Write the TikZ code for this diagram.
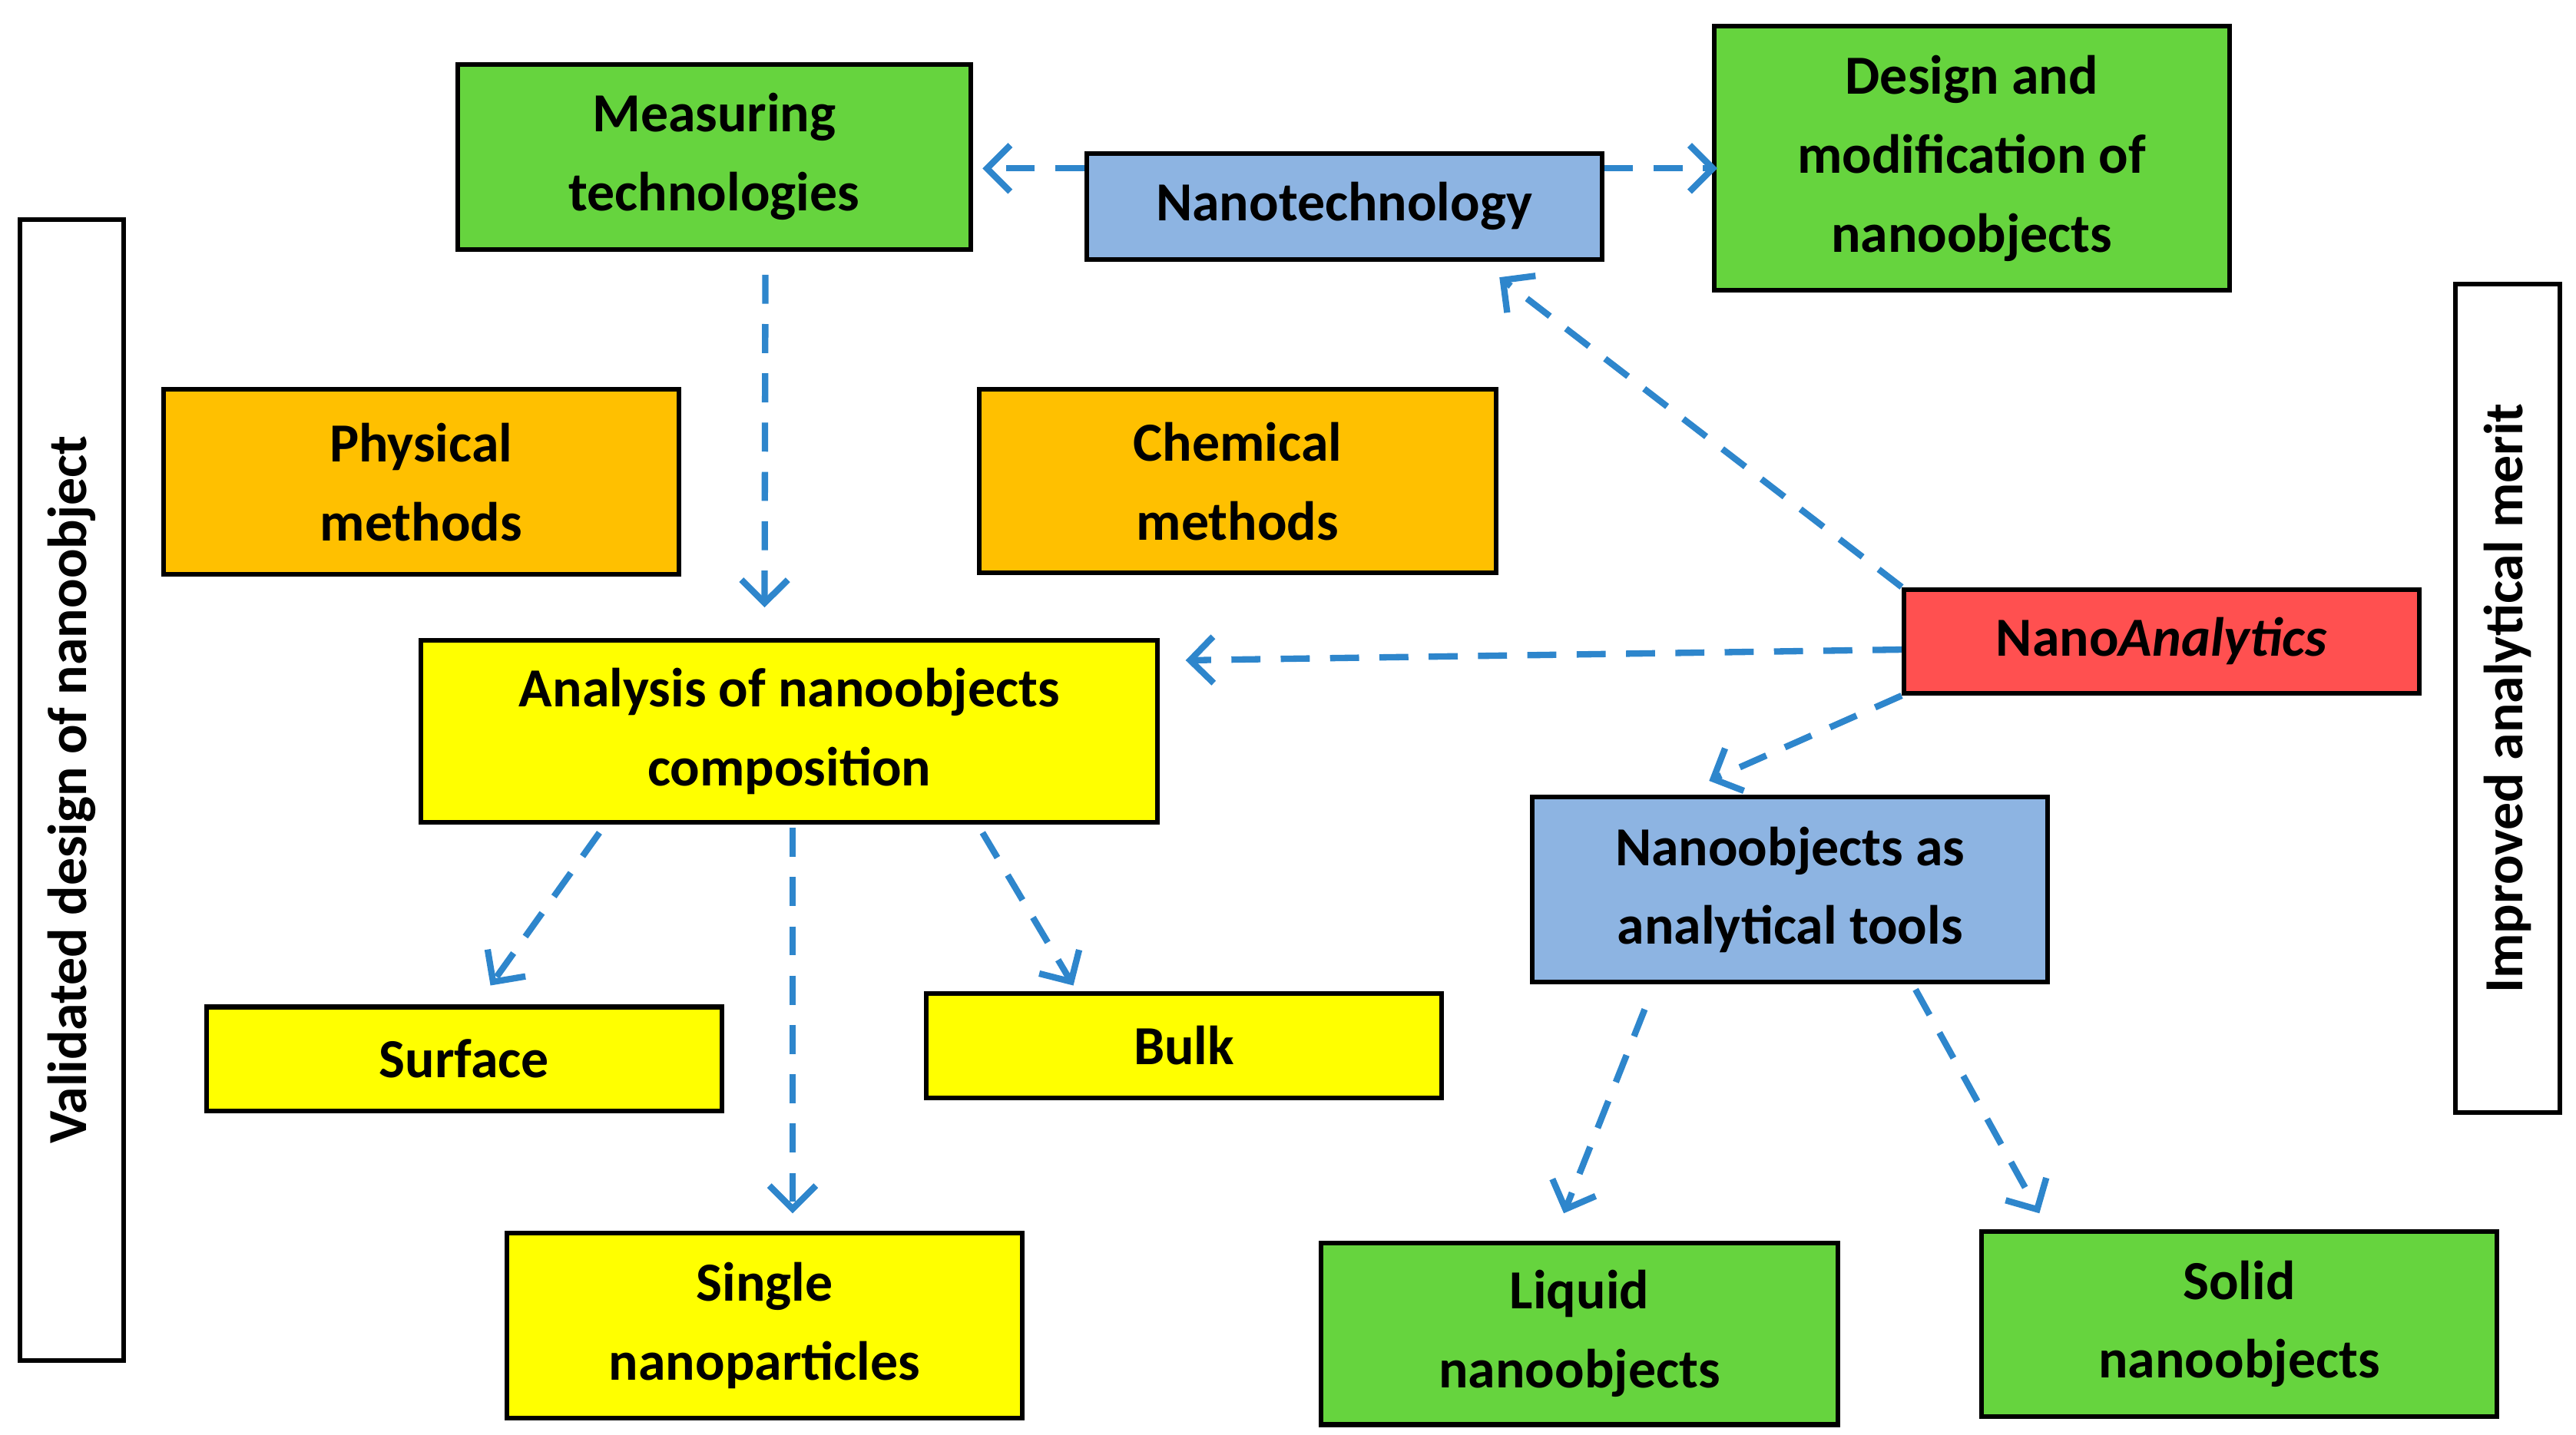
\documentclass[tikz,border=0pt]{standalone}
\usepackage{fontspec}
\setmainfont{Carlito}
\usetikzlibrary{arrows.meta}
\definecolor{gr}{RGB}{102,212,62}
\definecolor{bl}{RGB}{141,180,226}
\definecolor{og}{RGB}{255,192,0}
\definecolor{ye}{RGB}{255,255,0}
\definecolor{rd}{RGB}{255,80,80}
\definecolor{ar}{RGB}{46,134,204}
\begin{document}
\begin{tikzpicture}[
 box/.style={draw=black,line width=0.8pt,align=center,inner sep=0pt,
   font=\fontsize{9.5}{13.6}\selectfont\bfseries},
 con/.style={draw=ar,line width=1.1pt,dash pattern=on 5pt off 3.5pt,-{Straight Barb[length=4pt,width=8pt]}}]
\useasboundingbox (0,0) rectangle (15.6,-8.69);
\node[box,fill=gr,minimum width=3.11cm,minimum height=1.12cm] (meas) at (4.325,-0.95) {Measuring\\technologies};
\node[box,fill=bl,minimum width=3.12cm,minimum height=0.64cm] (nano) at (8.14,-1.25) {Nanotechnology};
\node[box,fill=gr,minimum width=3.12cm,minimum height=1.6cm] (des) at (11.94,-0.96) {Design and\\modification of\\nanoobjects};
\node[box,fill=og,minimum width=3.12cm,minimum height=1.12cm] (phys) at (2.55,-2.92) {Physical\\methods};
\node[box,fill=og,minimum width=3.13cm,minimum height=1.11cm] (chem) at (7.495,-2.915) {Chemical\\methods};
\node[box,fill=ye,minimum width=4.46cm,minimum height=1.10cm] (anal) at (4.78,-4.43) {Analysis of nanoobjects\\composition};
\node[box,fill=rd,minimum width=3.12cm,minimum height=0.63cm] (na) at (13.09,-3.885) {Nano\textit{Analytics}};
\node[box,fill=bl,minimum width=3.12cm,minimum height=1.12cm] (tools) at (10.84,-5.39) {Nanoobjects as\\analytical tools};
\node[box,fill=ye,minimum width=3.12cm,minimum height=0.63cm] (surf) at (2.81,-6.415) {Surface};
\node[box,fill=ye,minimum width=3.12cm,minimum height=0.63cm] (bulk) at (7.17,-6.335) {Bulk};
\node[box,fill=ye,minimum width=3.12cm,minimum height=1.12cm] (single) at (4.63,-8.03) {Single\\nanoparticles};
\node[box,fill=gr,minimum width=3.13cm,minimum height=1.10cm] (liq) at (9.565,-8.08) {Liquid\\nanoobjects};
\node[box,fill=gr,minimum width=3.12cm,minimum height=1.12cm] (sol) at (13.56,-8.02) {Solid\\nanoobjects};
\node[box,fill=white,minimum width=6.91cm,minimum height=0.63cm,rotate=90] (left) at (0.435,-4.785) {Validated design of nanoobject};
\node[box,fill=white,minimum width=5.02cm,minimum height=0.63cm,rotate=90] (right) at (15.185,-4.23) {Improved analytical merit};
\coordinate (e1) at (5.95,-1.02);
\coordinate (e2) at (10.40,-1.02);
\coordinate (e3) at (4.63,-3.68);
\coordinate (e4) at (9.08,-1.68);
\coordinate (e5) at (7.18,-4.00);
\coordinate (e6) at (10.35,-4.73);
\coordinate (e7) at (2.97,-5.97);
\coordinate (e8) at (4.80,-7.35);
\coordinate (e9) at (6.50,-5.97);
\coordinate (e10) at (9.47,-7.35);
\coordinate (e11) at (12.35,-7.35);
\draw[con] ([yshift=0.23cm]nano.west) -- (e1);
\draw[con] ([yshift=0.23cm]nano.east) -- (e2);
\draw[con] ([xshift=0.31cm,yshift=-0.14cm]meas.south) -- (e3);
\draw[con] (na.north west) -- (e4);
\draw[con] ([yshift=-0.05cm]na.west) -- (e5);
\draw[con] (na.south west) -- (e6);
\draw[con] ([xshift=-1.15cm,yshift=-0.05cm]anal.south) -- (e7);
\draw[con] ([xshift=0.02cm,yshift=-0.02cm]anal.south) -- (e8);
\draw[con] ([xshift=1.17cm,yshift=-0.05cm]anal.south) -- (e9);
\draw[con] ([xshift=-0.88cm,yshift=-0.15cm]tools.south) -- (e10);
\draw[con] ([xshift=0.76cm,yshift=-0.03cm]tools.south) -- (e11);
\end{tikzpicture}
\end{document}
